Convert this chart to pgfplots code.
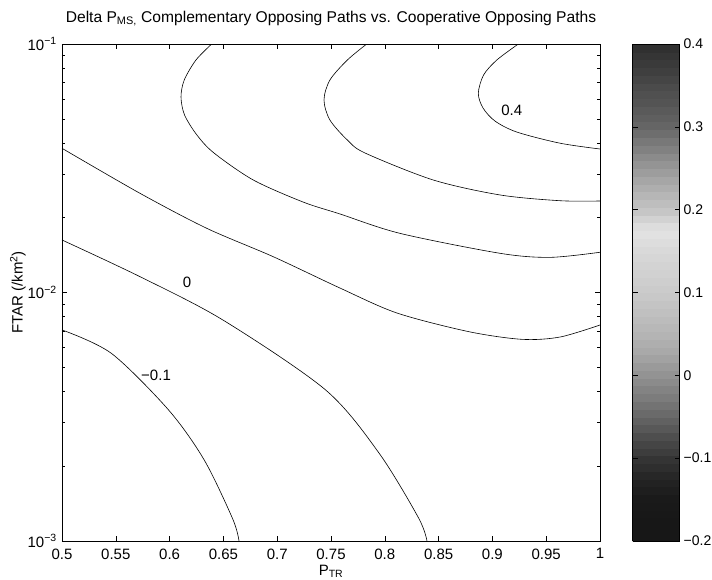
\documentclass[border=0pt]{standalone}
\usepackage{fontspec}
\setmainfont{Liberation Sans}
\usepackage{pgfplots}
\pgfplotsset{compat=1.18}

% grey map of the colour bar, -0.2 ... 0.4 in steps of 0.025
\pgfplotsset{
  colormap={matgray}{
    gray=(0.09) gray=(0.09) gray=(0.10) gray=(0.14) gray=(0.21)
    gray=(0.30) gray=(0.40) gray=(0.49) gray=(0.57) gray=(0.65)
    gray=(0.71) gray=(0.75) gray=(0.79) gray=(0.82) gray=(0.85)
    gray=(0.89) gray=(0.77) gray=(0.69) gray=(0.60) gray=(0.50)
    gray=(0.40) gray=(0.34) gray=(0.29) gray=(0.23) gray=(0.18)
  }
}

\begin{document}
\begin{tikzpicture}[font=\fontsize{15bp}{17bp}\selectfont]
\path[use as bounding box] (-62bp,-39bp) rectangle (650bp,541bp);
\begin{axis}[
  at={(0,0)}, anchor=south west,
  scale only axis, width=538bp, height=497bp,
  xmin=0.5, xmax=1, ymode=log, ymin=1e-3, ymax=1e-1,
  xtick={0.5,0.55,0.6,0.65,0.7,0.75,0.8,0.85,0.9,0.95,1},
  xticklabels={0.5,0.55,0.6,0.65,0.7,0.75,0.8,0.85,0.9,0.95,1},
  xticklabel style={yshift=-4bp},
  ytick={0.001,0.01,0.1},
  yticklabels={10\textsuperscript{−3},10\textsuperscript{−2},10\textsuperscript{−1}},
  yticklabel style={inner xsep=1bp, xshift=-4bp},
  minor ytick={0.002,0.003,0.004,0.005,0.006,0.007,0.008,0.009,
               0.02,0.03,0.04,0.05,0.06,0.07,0.08,0.09},
  tick align=inside,
  major tick length=5bp, minor tick length=3bp,
  axis line style={line width=0.9pt},
  tick style={line width=0.5pt, black},
  title={Delta P\textsubscript{MS,} Complementary Opposing Paths vs. Cooperative Opposing Paths},
  title style={at={(axis description cs:0.5,1)}, anchor=base, yshift=16bp, font=\fontsize{15.6bp}{18bp}\selectfont},
  xlabel={P\textsubscript{TR}},
  xlabel style={at={(axis description cs:0.5,0)}, anchor=base, yshift=-34bp},
  ylabel={FTAR (/km\textsuperscript{2})},
  ylabel style={at={(axis description cs:-0.082,0.5)}, anchor=center},
  colormap name=matgray,
  point meta min=-0.2, point meta max=0.4,
  colorbar sampled,
  colorbar style={
    at={(parent axis.north east)}, anchor=north west, xshift=24bp,
    scale only axis, width=47bp, height=497bp,
    samples=65,
    ytick={-0.2,-0.1,0,0.1,0.2,0.3,0.4},
    yticklabels={−0.2,−0.1,0,0.1,0.2,0.3,0.4},
    ytick pos=both, yticklabel pos=right,
    yticklabel style={inner xsep=1bp, xshift=3bp, font=\fontsize{14bp}{16bp}\selectfont},
    tick align=inside, major tick length=5bp,
    axis line style={line width=0.9pt},
    tick style={line width=0.5pt, black},
  },
]
% contour -0.1
\addplot[black, line width=0.6pt, smooth] coordinates {
  (0.5,0.00707) (0.5459,0.00569) (0.5991,0.003366) (0.6322,0.002118)
  (0.6588,0.001223) (0.6645,0.001)
};
% contour 0
\addplot[black, line width=0.6pt, smooth] coordinates {
  (0.5,0.01627) (0.5725,0.01158) (0.6496,0.00775)
  (0.7451,0.00405) (0.7946,0.00226) (0.8314,0.001238) (0.8392,0.001)
};
% contour 0.1
\addplot[black, line width=0.6pt, smooth] coordinates {
  (0.5,0.03805) (0.5725,0.02507) (0.6345,0.01813) (0.6964,0.01393)
  (0.7584,0.01042) (0.8113,0.00827) (0.8779,0.00696) (0.9275,0.00648)
  (0.9628,0.00662) (1,0.0074)
};
% contour 0.2
\addplot[black, line width=0.6pt, smooth] coordinates {
  (0.6391,0.1) (0.6245,0.08622) (0.6136,0.07163) (0.6106,0.06118)
  (0.6139,0.05179) (0.6254,0.04302) (0.6413,0.03641) (0.6778,0.02836)
  (0.7240,0.02313) (0.7584,0.0207) (0.8141,0.0173) (0.9071,0.01438)
  (0.9535,0.01385) (1,0.01452)
};
% contour 0.3
\addplot[black, line width=0.6pt, smooth] coordinates {
  (0.7832,0.1) (0.7652,0.08622) (0.7490,0.07163) (0.7435,0.05953)
  (0.7490,0.04944) (0.7652,0.04109) (0.7817,0.03641) (0.8451,0.02836)
  (0.9071,0.02469) (0.9628,0.02341) (1,0.02335)
};
% contour 0.4
\addplot[black, line width=0.6pt, smooth] coordinates {
  (0.9241,0.1) (0.9041,0.08622) (0.8918,0.07505) (0.8869,0.0633)
  (0.8913,0.05527) (0.9024,0.04898) (0.9226,0.04424) (0.9628,0.0399)
  (1,0.0378)
};
\node at (axis cs:0.918,0.0543) {0.4};
\node at (axis cs:0.6162,0.01102) {0};
\node at (axis cs:0.5874,0.004656) {−0.1};
\end{axis}
\end{tikzpicture}
\end{document}
